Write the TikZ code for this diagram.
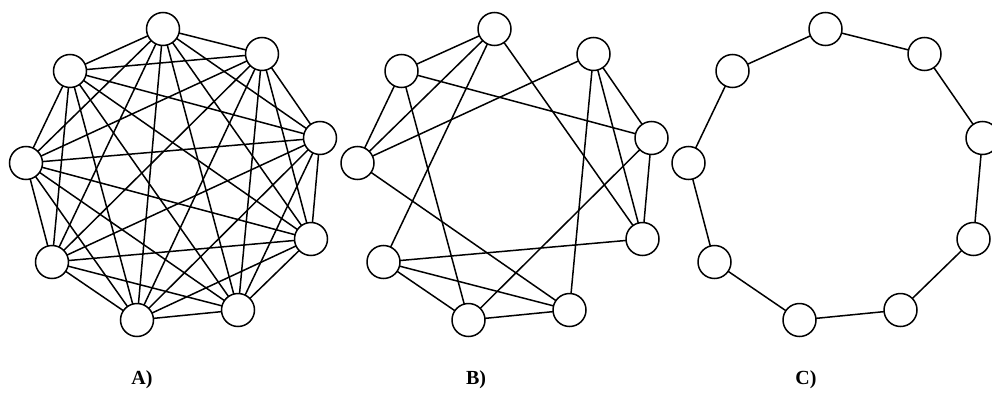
\documentclass[tikz,border=0pt]{standalone}
\usepackage{fontspec}
\setmainfont{Liberation Serif}
\begin{document}
\begin{tikzpicture}[x=1pt,y=-1pt,
  vert/.style={circle,draw=black,fill=white,line width=1.5pt,minimum size=33pt,inner sep=0pt},
  edge/.style={line width=1.5pt,black},
  lab/.style={font=\fontsize{20}{20}\selectfont\bfseries}]
\useasboundingbox[fill=white] (0,0) rectangle (992,396);
\foreach \g/\dx in {a/0,b/331.5,c/662.5}{
  \foreach \x/\y [count=\i] in {163/29,262/54,320/138,311/239,238/310,137/320,52/262,26/163,70/71}{
    \coordinate (\g\i) at (\x+\dx,\y);
  }
}
% Graph A: complete graph
\foreach \i in {1,...,9}{
  \foreach \j in {1,...,9}{
    \ifnum\i<\j \draw[edge] (a\i) -- (a\j); \fi
  }
}
% Graph B
\foreach \i/\j in {1/9,1/8,1/7,1/4,9/8,9/3,9/6,8/2,8/5,7/4,7/5,7/6,6/5,6/3,5/2,4/3,4/2,3/2}{
  \draw[edge] (b\i) -- (b\j);
}
% Graph C: ring
\foreach \i/\j in {1/2,2/3,3/4,4/5,5/6,6/7,7/8,8/9,9/1}{
  \draw[edge] (c\i) -- (c\j);
}
% vertices
\foreach \g in {a,b,c}{
  \foreach \i in {1,...,9}{
    \node[vert] (\g v\i) at (\g\i) {};
  }
}
\node[lab] (la) at (142,380) {A)};
\node[lab] (lb) at (476,380) {B)};
\node[lab] (lc) at (806,380) {C)};
\end{tikzpicture}
\end{document}
